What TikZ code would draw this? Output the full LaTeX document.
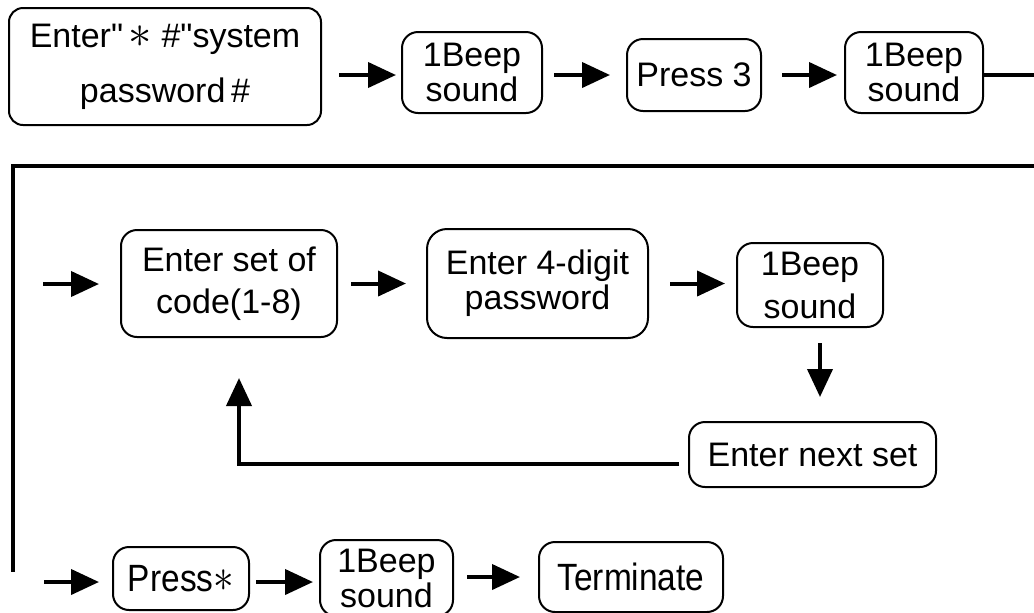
\documentclass[tikz,border=0pt]{standalone}
\usepackage{fontspec}
\setmainfont{Liberation Sans}[Ligatures=TeXOff]
\usetikzlibrary{positioning,arrows.meta}
\tikzset{
  stepbox/.style={draw, rounded corners=8pt, line width=1pt, align=center, inner sep=0pt,
                  font=\fontsize{17}{17.5}\selectfont},
  fwd/.style={-{Triangle[length=14pt,width=12.5pt]}, line width=2pt, shorten <=7pt, shorten >=5pt},
  wire/.style={line width=2pt},
  lowrow/.style={font=\fontsize{19}{20}\selectfont},
}
\newcommand{\narrow}[1]{\scalebox{0.88}[1]{#1}}
\newcommand{\bigast}{\scalebox{1.35}{$\ast$}}

\begin{document}
\begin{tikzpicture}[x=0.5pt, y=-0.5pt]
  \useasboundingbox (0,0) rectangle (1034,612);

  % first row
  \node[stepbox, minimum width=156pt, minimum height=58.5pt, rounded corners=7pt,
        font=\fontsize{17}{27.5}\selectfont] (b1) at (165,66.5) {Enter"\,\bigast\ \#"system\\password\,\#};
  \node[stepbox, minimum width=70pt, minimum height=40.5pt] (b2) at (472,72.5) {1Beep\\sound};
  \node[stepbox, minimum width=67pt, minimum height=36pt] (b3) at (694,75) {Press 3};
  \node[stepbox, minimum width=69pt, minimum height=40.5pt] (b4) at (914,72.5) {1Beep\\sound};

  \draw[fwd, shorten <=8.5pt, shorten >=2.5pt] (b1.east |- b3) -- (b2.west |- b3);
  \draw[fwd, shorten <=5.5pt, shorten >=8pt] (b2.east |- b3) -- (b3.west);
  \draw[fwd, shorten <=10pt, shorten >=3.5pt] (b3.east) -- (b4.west |- b3);

  \coordinate (outR) at (1034,75);
  \coordinate (topR) at (1034,166);
  \coordinate (topL) at (13,166);
  \coordinate (botL) at (13,572);
  \draw[wire] (b4.east |- outR) -- (outR);
  \draw[wire] (topR) -- (topL) -- (botL);

  % second row
  \node[stepbox, minimum width=108pt, minimum height=53.5pt,
        font=\fontsize{17}{21}\selectfont] (m1) at (229,283.5) {Enter set of\\code(1-8)};
  \node[stepbox, minimum width=110.5pt, minimum height=54.5pt, rounded corners=10pt,
        font=\fontsize{17}{17.5}\selectfont] (m2) at (537.5,283.5) {Enter 4-digit\\password};
  \node[stepbox, minimum width=73pt, minimum height=42pt,
        font=\fontsize{17}{21.5}\selectfont] (m3) at (810,285) {1Beep\\sound};
  \node[stepbox, minimum width=123.5pt, minimum height=32.5pt] (m4) at (812.5,454.5) {Enter next set};

  \coordinate (in1) at (43,284);
  \coordinate (bend) at (239,464);
  \draw[fwd, shorten <=0pt, shorten >=10.5pt] (in1) -- (m1.west |- in1);
  \draw[fwd, shorten <=6.5pt, shorten >=10pt] (m1.east) -- (m2.west);
  \draw[fwd, shorten <=10.5pt, shorten >=5.5pt] (m2.east) -- (m3.west |- m2.east);
  \draw[fwd, shorten <=7.5pt, shorten >=12pt] ([xshift=5pt]m3.south) -- ([xshift=5pt]m3.south |- m4.north);
  \draw[fwd, shorten <=4.5pt, shorten >=20pt] (m4.west |- bend) -- (bend) -- (bend |- m1.south);

  % last row
  \node[stepbox, lowrow, minimum width=68pt, minimum height=31.5pt] (p1) at (181,578.5) {\narrow{Press\bigast}};
  \node[stepbox, minimum width=66.5pt, minimum height=38pt] (p2) at (386.5,578) {1Beep\\sound};
  \node[stepbox, lowrow, minimum width=92pt, minimum height=35pt] (p3) at (631,577) {\narrow{Terminate}};

  \coordinate (in2) at (44,582);
  \draw[fwd, shorten <=0pt, shorten >=6.5pt] (in2) -- (p1.west |- in2);
  \draw[fwd, shorten <=3pt, shorten >=3pt] (p1.east |- in2) -- (p2.west |- in2);
  \draw[fwd, shorten <=6.5pt, shorten >=9pt] (p2.east |- p3) -- (p3.west);

\end{tikzpicture}
\end{document}
